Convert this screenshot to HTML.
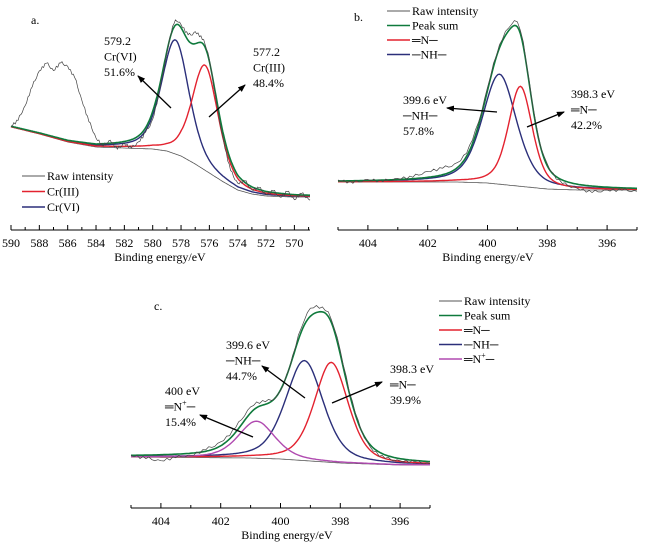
<!DOCTYPE html>
<html><head><meta charset="utf-8">
<style>
html,body{margin:0;padding:0;background:#fff;}
svg{display:block;font-family:"Liberation Serif",serif;}
text{font-family:"Liberation Serif",serif;}
</style></head>
<body>
<svg id="chart" width="652" height="545" viewBox="0 0 652 545" xmlns="http://www.w3.org/2000/svg">
<defs>
<marker id="ah" markerWidth="8" markerHeight="6" refX="7" refY="3" orient="auto" markerUnits="userSpaceOnUse">
<path d="M0,0 L8,3 L0,6 z" fill="#000"/>
</marker>
</defs>
<g id="pa"></g>
<g id="pb"></g>
<g id="pc"></g>
</svg>
<script>
// ---------- data ----------
// Panel a (Cr 2p)
const aBgE = [590,588,586,584,582,580,579,578,577,576,575,574,573,572,570,568.8];
const aBgI = [73,66,58,53,52,51,49,44,36,27,18,10,6,4,3,3];
const aPeakNames = ["Cr(VI)","Cr(III)"];
const aPeakCenters = [578.4,576.3];
const aPeakHeights = [114,105];
const aPeakFwhm = [2.3,2.2];
const aRawDevE = [590,589.5,589,588.5,588,587.5,587,586.5,586,585.5,585,584.5,584,583.5,583,582.5,582,581.5,581,580.5,580,579.5,579,578.5,578,577.5,577,576.5,576,575.5,575,574.5,574,573.5,573,572.5,572,571.5,571,570.5,570,569.5,569];
const aRawDev = [0,8,24,45,62,72,66,76,74,64,42,22,6,-2,3,-6,-2,-8,-6,-4,-8,-4,-2,4,3,6,12,4,2,-4,-6,-10,-8,2,-3,2,-3,2,-4,3,-5,2,-4];
// Panel b (N 1s)
const bBgE = [405,402,401,400,399,398,397,396,395];
const bBgI = [13,13,13,12,9,6,5,5,5];
const bPeakNames = ["-NH-","=N-"];
const bPeakCenters = [399.6,398.9];
const bPeakHeights = [110,100];
const bPeakFwhm = [1.35,0.95];
const bRawDevE = [405,404.5,404,403.5,403,402.5,402,401.5,401,400.5,400,399.5,399,398.5,398,397.5,397,396.5,396,395.5,395];
const bRawDev = [1,-2,1,-1,1,2,6,7,5,4,3,2,5,1,2,-3,-4,-6,-3,-2,-3];
// Panel c (N 1s)
const cBgE = [405,401,400,399,398,397,396,395];
const cBgI = [13,12,11,9,7,6,5,5];
const cPeakNames = ["-NH-","=N-","=N+-"];
const cPeakCenters = [399.2,398.3,400.8];
const cPeakHeights = [100,100,37];
const cPeakFwhm = [1.5,1.35,1.45];
const cRawDevE = [405,404.5,404,403.5,403,402.5,402,401.5,401,400.5,400,399.5,399,398.5,398,397.5,397,396.5,396,395.5,395];
const cRawDev = [0,-3,-6,-3,-2,2,4,5,6,3,-1,2,8,3,4,2,-2,-3,-2,-1,-2];

// ---------- helpers ----------
const NS="http://www.w3.org/2000/svg";
const FONT='"Liberation Serif", serif';
function mk(parent,tag,attrs){const e=document.createElementNS(NS,tag);for(const k in attrs)e.setAttribute(k,attrs[k]);if(tag==="text")e.setAttribute("font-family",FONT);parent.appendChild(e);return e;}
function interp(xs,ys,x){
  if(x>=xs[0])return ys[0];
  for(let i=0;i<xs.length-1;i++){if(x<=xs[i]&&x>=xs[i+1]){const t=(xs[i]-x)/(xs[i]-xs[i+1]);return ys[i]+t*(ys[i+1]-ys[i]);}}
  return ys[ys.length-1];
}
function pv(E,c,h,w){const d=(E-c)/(w/2);const L=1/(1+d*d);const G=Math.exp(-Math.log(2)*d*d);return h*(0.45*L+0.55*G);}

function panel(g,cfg){
  const xs=E=>cfg.x0+(cfg.e0-E)*cfg.ppe;
  const ys=I=>cfg.y0-I;
  const Es=[];for(let E=cfg.eStart;E>=cfg.eEnd-1e-9;E-=0.05)Es.push(+E.toFixed(3));
  const bg=E=>interp(cfg.bgE,cfg.bgI,E);
  const peak=(k,E)=>pv(E,cfg.centers[k],cfg.heights[k],cfg.fwhm[k]);
  const sum=E=>{let s=bg(E);for(let k=0;k<cfg.centers.length;k++)s+=peak(k,E);return s;};
  const path=f=>Es.map((E,i)=>(i?"L":"M")+xs(E).toFixed(1)+","+ys(f(E)).toFixed(1)).join(" ");
  const ax=mk(g,"line",{x1:xs(cfg.eStart),x2:xs(cfg.eEnd),y1:cfg.axisY,y2:cfg.axisY,stroke:"#000","stroke-width":1});
  
  
  for(let E=cfg.tickStart;E>=cfg.eEnd-1e-9;E-=1){
    const major=(Math.round(E)%2===0);
    const t=mk(g,"line",{x1:xs(E),x2:xs(E),y1:cfg.axisY,y2:cfg.axisY-(major?5:3),stroke:"#000","stroke-width":1});
    
    
    if(major){
      const tl=mk(g,"text",{x:xs(E),y:cfg.axisY+17,"text-anchor":"middle","font-size":12});
      tl.textContent=String(Math.round(E));
      
      
    }
  }
  const xl=mk(g,"text",{x:cfg.labelX,y:cfg.axisY+31,"text-anchor":"middle","font-size":12});
  xl.textContent="Binding energy/eV";
  
  
  const raw=E=>sum(E)+interp(cfg.devE,cfg.dev,E);
  const rawEs=[];for(let E=cfg.eStart;E>=cfg.eEnd-1e-9;E-=0.1)rawEs.push(+E.toFixed(3));
  const wig=[0,1,-1,1.5,-1,0.5,-1.5,0.5,1,-0.5];
  const rawPath=rawEs.map((E,i)=>(i?"L":"M")+xs(E).toFixed(1)+","+(ys(raw(E))+wig[i%10]).toFixed(1)).join(" ");
  const bgp=mk(g,"path",{d:path(bg),fill:"none",stroke:"#555","stroke-width":0.8});
  
  
  for(let k=0;k<cfg.centers.length;k++){
    const p=mk(g,"path",{d:path(E=>bg(E)+peak(k,E)),fill:"none",stroke:cfg.colors[k],"stroke-width":1.4});
    
    
  }
  if(cfg.showSum){
    const s=mk(g,"path",{d:path(sum),fill:"none",stroke:"#0f7a3c","stroke-width":1.6});
    
    
  }
  const r=mk(g,"path",{d:rawPath,fill:"none",stroke:"#444","stroke-width":0.7});
  
  
  cfg.legend.forEach((it,i)=>{
    const y=cfg.legY+i*cfg.legDy;
    const l=mk(g,"line",{x1:cfg.legX,x2:cfg.legX+23,y1:y,y2:y,stroke:it[1],"stroke-width":it[2]});
    
    
    const t=mk(g,"text",{x:cfg.legX+25,y:y+4,"font-size":12});
    t.innerHTML=it[0];
    
    
  });
  const pl=mk(g,"text",{x:cfg.plX,y:cfg.plY,"font-size":12});
  pl.textContent=cfg.letter;
  
  
  cfg.ann.forEach(a=>{
    a.lines.forEach((s,i)=>{
      const t=mk(g,"text",{x:a.x,y:a.y+i*15.5,"font-size":12});
      t.innerHTML=s;
      
      
    });
    const ar=mk(g,"line",{x1:a.ax1,y1:a.ay1,x2:a.ax2,y2:a.ay2,stroke:"#000","stroke-width":1.3,"marker-end":"url(#ah)"});
    
    
  });
}

panel(document.getElementById('pa'),{
  x0:11,e0:590,ppe:14.17,y0:200,axisY:230,eStart:590,eEnd:568.9,tickStart:590,labelX:160,
  bgE:aBgE,bgI:aBgI,centers:aPeakCenters,heights:aPeakHeights,fwhm:aPeakFwhm,devE:aRawDevE,dev:aRawDev,
  colors:["#2b2f7a","#e3222f"],slugs:["cr-vi","cr-iii"],showSum:true,
  legend:[["Raw intensity","#555",1],["Cr(III)","#e3222f",1.4],["Cr(VI)","#2b2f7a",1.4]],legX:22,legY:176,legDy:15.5,
  letter:"a.",plX:31,plY:24,
  ann:[{x:104,y:45,lines:["579.2","Cr(VI)","51.6%"],ax1:171,ay1:108,ax2:138,ay2:76},
       {x:253,y:56,lines:["577.2","Cr(III)","48.4%"],ax1:209,ay1:117,ax2:245,ay2:85}]
});
panel(document.getElementById('pb'),{
  x0:338,e0:405,ppe:29.9,y0:195,axisY:230,eStart:405,eEnd:395,tickStart:405,labelX:488,
  bgE:bBgE,bgI:bBgI,centers:bPeakCenters,heights:bPeakHeights,fwhm:bPeakFwhm,devE:bRawDevE,dev:bRawDev,
  colors:["#2b2f7a","#e3222f"],slugs:["nh","n-imine"],showSum:true,
  legend:[["Raw intensity","#555",1],["Peak sum","#0f7a3c",1.6],["═N─","#e3222f",1.4],["─NH─","#2b2f7a",1.4]],legX:387,legY:11,legDy:14.5,
  letter:"b.",plX:354,plY:21,
  ann:[{x:403,y:104,lines:["399.6 eV","─NH─","57.8%"],ax1:497,ay1:112,ax2:447,ay2:108},
       {x:571,y:98,lines:["398.3 eV","═N─","42.2%"],ax1:527,ay1:127,ax2:564,ay2:112}]
});
panel(document.getElementById('pc'),{
  x0:131,e0:405,ppe:29.9,y0:470,axisY:508,eStart:405,eEnd:395,tickStart:405,labelX:287,
  bgE:cBgE,bgI:cBgI,centers:cPeakCenters,heights:cPeakHeights,fwhm:cPeakFwhm,devE:cRawDevE,dev:cRawDev,
  colors:["#2b2f7a","#e3222f","#b04ab0"],slugs:["nh","n-imine","n-plus"],showSum:true,
  legend:[["Raw intensity","#555",1],["Peak sum","#0f7a3c",1.6],["═N─","#e3222f",1.4],["─NH─","#2b2f7a",1.4],["═N<tspan dy='-5' font-size='8'>+</tspan><tspan dy='5'>─</tspan>","#b04ab0",1.4]],legX:439,legY:301,legDy:14.5,
  letter:"c.",plX:154,plY:310,
  ann:[{x:226,y:349,lines:["399.6 eV","─NH─","44.7%"],ax1:305,ay1:398,ax2:262,ay2:366},
       {x:165,y:395,lines:["400 eV","═N<tspan dy='-5' font-size='8'>+</tspan><tspan dy='5'>─</tspan>","15.4%"],ax1:253,ay1:437,ax2:200,ay2:415},
       {x:390,y:373,lines:["398.3 eV","═N─","39.9%"],ax1:332,ay1:403,ax2:382,ay2:382}]
});
</script>
</body></html>
